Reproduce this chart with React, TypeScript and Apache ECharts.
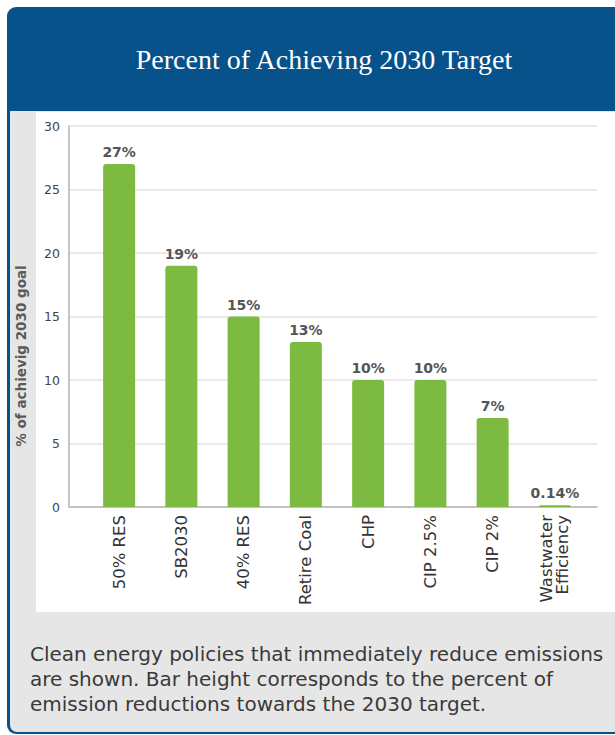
import React, { useEffect, useRef } from "react";
import * as echarts from "echarts";

const categories = ["50% RES", "SB2030", "40% RES", "Retire Coal", "CHP", "CIP 2.5%", "CIP 2%", "Wastwater\nEfficiency"];
const values = [27, 19, 15, 13, 10, 10, 7, 0.14];
const yTicks = { min: 0, max: 30, interval: 5 };
const titleText = "Percent of Achieving 2030 Target";
const yAxisTitle = "% of achievig 2030 goal";
const footerLines = [
  "Clean energy policies that immediately reduce emissions",
  "are shown. Bar height corresponds to the percent of",
  "emission reductions towards the 2030 target.",
];

const BLUE = "#07528b";
const GREEN = "#7dba41";
const SANS = "'DejaVu Sans', sans-serif";

export default function App() {
  const ref = useRef<HTMLDivElement>(null);
  useEffect(() => {
    if (!ref.current) return;
    const chart = echarts.init(ref.current, undefined, { renderer: "svg" });
    chart.setOption({
      animation: false,
      backgroundColor: "#ffffff",
      graphic: [
        { type: "rect", z: -10, shape: { x: 7, y: 7, width: 640, height: 727, r: [9, 0, 0, 9] }, style: { fill: BLUE } },
        { type: "rect", z: -9, shape: { x: 10, y: 111, width: 640, height: 621, r: [0, 0, 0, 7] }, style: { fill: "#e6e6e6" } },
        { type: "rect", z: -8, shape: { x: 36, y: 112, width: 600, height: 500 }, style: { fill: "#ffffff" } },
        {
          type: "text", z: 10, x: 324, y: 59,
          style: { text: titleText, fill: "#ffffff", font: "normal 28px 'Liberation Serif', serif", textAlign: "center", textVerticalAlign: "middle" },
        },
        {
          type: "text", z: 10, x: 21, y: 356, rotation: Math.PI / 2,
          style: { text: yAxisTitle, fill: "#5a5a5a", font: `bold 13.5px ${SANS}`, textAlign: "center", textVerticalAlign: "middle" },
        },
        ...footerLines.map((t, i) => ({
          type: "text", z: 10, x: 30, y: 654 + i * 25,
          style: { text: t, fill: "#3a3a3a", font: `normal 20px ${SANS}`, textAlign: "left", textVerticalAlign: "middle" },
        })),
      ],
      grid: [
        { left: 69, right: 18, top: 126, bottom: 228 },
        { left: 88, right: 29, top: 126, bottom: 228 },
      ],
      xAxis: [
        {
          type: "value", gridIndex: 0, min: 0, max: 1,
          axisLine: { show: true, lineStyle: { color: "#b5b5b5", width: 1.5 } },
          axisTick: { show: false }, axisLabel: { show: false }, splitLine: { show: false },
        },
        {
          type: "category", gridIndex: 1, data: categories,
          axisLine: { show: false }, axisTick: { show: false },
          axisLabel: { rotate: 90, margin: 8, fontSize: 16.5, color: "#333333", fontFamily: SANS, lineHeight: 16 },
        },
      ],
      yAxis: [
        {
          type: "value", gridIndex: 0, min: yTicks.min, max: yTicks.max, interval: yTicks.interval,
          axisLine: { show: true, lineStyle: { color: "#b5b5b5", width: 1.5 } },
          axisTick: { show: false },
          axisLabel: { fontSize: 12.5, color: "#444444", fontFamily: SANS, margin: 9 },
          splitLine: { show: true, lineStyle: { color: "#e3e3e3", width: 1.5 } },
        },
        {
          type: "value", gridIndex: 1, min: yTicks.min, max: yTicks.max, interval: yTicks.interval,
          show: false, splitLine: { show: false },
        },
      ],
      series: [
        {
          type: "bar", xAxisIndex: 1, yAxisIndex: 1, data: values, barWidth: 32,
          itemStyle: { color: GREEN, borderRadius: [3, 3, 0, 0] },
          label: {
            show: true, position: "top", distance: 5, formatter: "{c}%",
            fontSize: 14, fontWeight: "bold", color: "#555555", fontFamily: SANS,
          },
        },
      ],
    });
    return () => chart.dispose();
  }, []);
  return <div ref={ref} style={{ position: "fixed", left: 0, top: 0, width: 615, height: 735 }} />;
}
